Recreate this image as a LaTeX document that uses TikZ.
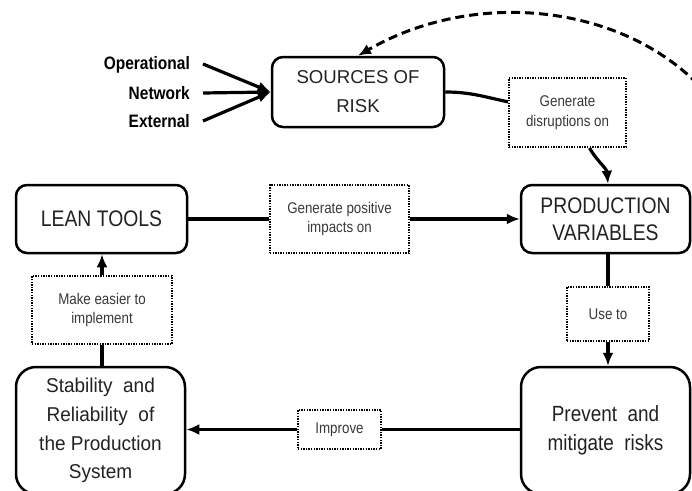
\documentclass[tikz,border=0pt]{standalone}
\usepackage{fontspec}
\setmainfont{Liberation Sans}
\newfontfamily\nf[FakeStretch=0.86]{Liberation Sans}
\newfontfamily\nfs[FakeStretch=0.95]{Liberation Sans}
\usetikzlibrary{arrows.meta,calc}
\definecolor{boxtext}{HTML}{222222}
\definecolor{labtext}{HTML}{383838}
\tikzset{
  mainbox/.style={draw=black, line width=2.5pt, rounded corners=11pt, inner sep=0pt,
    align=center, text=boxtext},
  bigbox/.style={mainbox, rounded corners=20pt, minimum width=169pt, minimum height=127pt},
  labbox/.style={draw=black, line width=2pt, dash pattern=on 1.4pt off 1.2pt, inner sep=0pt, align=center,
    text=labtext, font=\nf\fontsize{15.5}{19.5}\selectfont},
  conn/.style={line width=3.2pt},
  arr/.style={conn, -{Latex[length=13pt,width=11pt]}},
  srclab/.style={anchor=east, inner sep=0pt, font=\nf\bfseries\fontsize{18}{20}\selectfont, text=black}
}
\begin{document}
\begin{tikzpicture}[x=1pt,y=-1pt]
\useasboundingbox (0,0) rectangle (692,490);
\clip (0,0) rectangle (692,490);
% main boxes
\node[mainbox, minimum width=172pt, minimum height=70pt,
  font=\fontsize{18.6}{29}\selectfont] (src) at (358,92) {SOURCES OF\\RISK};
\node[mainbox, minimum width=171pt, minimum height=68pt,
  font=\nf\fontsize{22.5}{27}\selectfont] (lean) at (101.5,219) {LEAN TOOLS};
\node[mainbox, minimum width=169pt, minimum height=68pt,
  font=\nf\fontsize{22.5}{27}\selectfont] (prod) at (605.5,219) {PRODUCTION\\VARIABLES};
\node[bigbox, font=\nfs\fontsize{20}{28.7}\selectfont] (stab) at (100.5,430.5)
  {Stability\ \ and\\Reliability\ \ of\\the Production\\System};
\node[bigbox, font=\nf\fontsize{22}{29}\selectfont] (prev) at (605.5,430.5)
  {Prevent\ \ and\\mitigate\ \ risks};
% label boxes
\node[labbox, minimum width=117pt, minimum height=69pt] (dis) at (567.5,112.5) {Generate\\disruptions on};
\node[labbox, minimum width=139pt, minimum height=68pt] (pos) at (339.5,219) {Generate positive\\impacts on};
\node[labbox, minimum width=140pt, minimum height=68pt] (mak) at (102,310) {Make easier to\\implement};
\node[labbox, minimum width=82pt, minimum height=54pt] (use) at (608,314) {Use to};
\node[labbox, minimum width=83pt, minimum height=39pt] (imp) at (339.5,429.5) {Improve};
% source labels
\node[srclab] (op) at (190,65) {Operational};
\node[srclab] (net) at (190,93) {Network};
\node[srclab] (ext) at (190,121) {External};
% inputs
\draw[arr] ($(op.east)+(13,-1)$) -- (src.west);
\draw[arr] ($(net.east)+(13,0)$) -- (src.west);
\draw[arr] ($(ext.east)+(13,0)$) -- (src.west);
% connectors
\draw[conn] (src.east) to[out=0,in=168] ($(dis.north west)!0.35!(dis.south west)$);
\draw[arr] ($(dis.south)+(22,0)$) to[out=-60,in=95] (use.north |- prod.north);
\draw[conn] (lean.east) -- (pos.west);
\draw[arr] (pos.east) -- (prod.west);
\draw[conn] (use.north) -- (use.north |- prod.south);
\draw[arr] (use.south) -- (use.south |- prev.north);
\draw[conn] (prev.west |- imp.east) -- (imp.east);
\draw[arr] (imp.west) -- (imp.west -| stab.east);
\draw[arr] (mak.north) -- (mak.north |- lean.south);
\draw[conn] (mak.south) -- (mak.south |- stab.north);
% dashed feedback
\coordinate (dstart) at (716,105);
\draw[line width=3pt, dash pattern=on 9pt off 5pt, -{Latex[length=13pt,width=11pt]}]
  (dstart) .. controls (640,5) and (480,-15) .. (src.north);
\end{tikzpicture}
\end{document}
